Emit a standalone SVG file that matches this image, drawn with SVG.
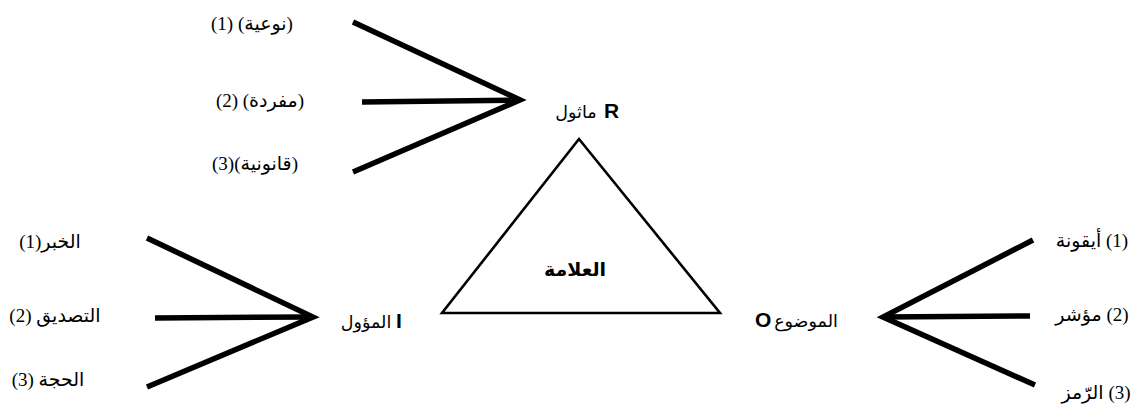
<svg xmlns="http://www.w3.org/2000/svg" width="1136" height="408" viewBox="0 0 1136 408">
<style>
.fan{stroke:#000;stroke-width:5.5;stroke-linecap:butt;fill:none}
.tri{stroke:#000;stroke-width:2.6;fill:none;stroke-linejoin:miter}
.lbl{font-family:"Liberation Serif","DejaVu Sans",serif;font-size:19px;fill:#000;text-anchor:middle;direction:rtl}
.ar{font-family:"Liberation Sans","DejaVu Sans",sans-serif;font-size:17.5px;fill:#000;text-anchor:middle;direction:rtl}
.big{font-family:"Liberation Sans",Arial,sans-serif;font-weight:bold;font-size:21px;fill:#000}
.title{font-family:"Liberation Sans","DejaVu Sans",sans-serif;font-weight:bold;font-size:19px;fill:#000;text-anchor:middle;direction:rtl}
</style>
<g id="connectors">
<polyline class="fan" points="353,22 520,100 353,172"/>
<line class="fan" x1="362" y1="102" x2="520" y2="100"/>
<polyline class="fan" points="147,238 313,317 147,387"/>
<line class="fan" x1="155" y1="318" x2="313" y2="317"/>
<polyline class="fan" points="1033,240 883,317 1035,385"/>
<line class="fan" x1="1030" y1="316" x2="883" y2="317"/>
</g>
<g id="sign">
<polygon class="tri" points="579,139 442,313 720,313"/>
<text class="title" x="575" y="276">العلامة</text>
</g>
<g id="R">
<text class="big" x="604" y="118">R</text>
<text class="ar" x="576" y="118">ماثول</text>
</g>
<g id="I">
<text class="big" x="396" y="328">I</text>
<text class="ar" x="366" y="328">المؤول</text>
</g>
<g id="O">
<text class="big" x="755" y="327">O</text>
<text class="ar" x="806" y="327">الموضوع</text>
</g>
<g id="R-labels">
<text class="lbl" x="252" y="30">(نوعية) (1)</text>
<text class="lbl" x="260" y="107">(مفردة) (2)</text>
<text class="lbl" x="255" y="170">(قانونية)(3)</text>
</g>
<g id="I-labels">
<text class="lbl" x="50" y="248">الخبر(1)</text>
<text class="lbl" x="55" y="322">التصديق (2)</text>
<text class="lbl" x="48" y="386">الحجة (3)</text>
</g>
<g id="O-labels">
<text class="lbl" x="1092" y="247">(1) أيقونة</text>
<text class="lbl" x="1092" y="321">(2) مؤشر</text>
<text class="lbl" x="1096" y="399">(3) الرّمز</text>
</g>
</svg>
